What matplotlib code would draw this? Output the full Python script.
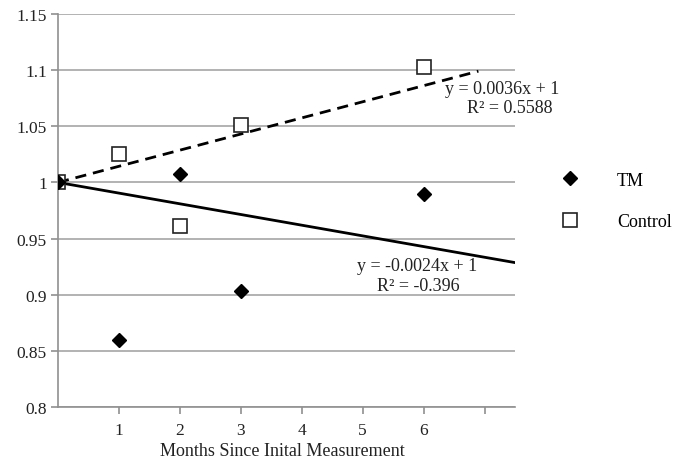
import numpy as np
import matplotlib
matplotlib.use("Agg")
import matplotlib.pyplot as plt

plt.rcParams['font.family'] = ['Liberation Serif', 'DejaVu Serif']

months = [0, 1, 2, 3, 6]
tm = [1.0, 0.86, 1.0075, 0.903, 0.99]
control = [1.0, 1.025, 0.961, 1.051, 1.103]
tm_eq = ["y = -0.0024x + 1", "R² = -0.396"]
ctrl_eq = ["y = 0.0036x + 1", "R² = 0.5588"]
xtick_pos = [1, 2, 3, 4, 5, 6, 7]
xtick_labels = ["1", "2", "3", "4", "5", "6", ""]
tm_trend_end = 7.5
ctrl_trend_end = 6.9

fig = plt.figure(figsize=(6.88, 4.64), dpi=100)
ax = fig.add_axes([0.0843, 0.1207, 0.6642, 0.847])

def fit_fixed(x, y, b=1.0):
    x = np.asarray(x, float); y = np.asarray(y, float) - b
    return (x * y).sum() / (x * x).sum()

m_tm = fit_fixed(months, tm)
m_c = fit_fixed(months, control)

ax.set_xlim(0, 7.5)
ax.set_ylim(0.8, 1.15)
yt = np.round(np.arange(0.8, 1.1501, 0.05), 2)
ax.set_yticks(yt)
ax.set_yticklabels([("%g" % v) for v in yt])
ax.set_xticks(xtick_pos)
ax.set_xticklabels(xtick_labels)
ax.yaxis.grid(True, color='#a6a6a6', linewidth=1.2)
ax.set_axisbelow(True)
for s in ['top', 'right']:
    ax.spines[s].set_visible(False)
for s in ['left', 'bottom']:
    ax.spines[s].set_color('#909090')
    ax.spines[s].set_linewidth(1.2)
ax.tick_params(axis='both', colors='#909090', labelcolor='#222222', labelsize=12.5, length=5, width=1.2)
ax.tick_params(axis='y', length=5, pad=3)
ax.tick_params(axis='x', pad=6)

xs = np.array([0, tm_trend_end])
ax.plot(xs, 1 + m_tm * xs, color='black', lw=2.0, zorder=3)
xc = np.array([0, ctrl_trend_end])
ax.plot(xc, 1 + m_c * xc, color='black', lw=2.0, ls=(0, (4, 2.5)), zorder=3)

ax.plot(months, control, ls='none', marker='s', ms=10, mfc='white', mec='#222222', mew=1.2, label='Control', zorder=4)
ax.plot(months, tm, ls='none', marker='D', ms=7, mfc='black', mec='black', label='TM', zorder=5)

tkw = dict(ha='center', va='center', fontsize=13, color='#222222', clip_on=False)
ax.text(7.29, 1.0832, ctrl_eq[0], **tkw)
ax.text(7.42, 1.0663, ctrl_eq[1], **tkw)
ax.text(5.89, 0.9256, tm_eq[0], **tkw)
ax.text(5.91, 0.9078, tm_eq[1], **tkw)

ax.set_xlabel("Months Since Inital Measurement", fontsize=13, color='#222222')
ax.xaxis.set_label_coords(0.49, -0.088)

h, l = ax.get_legend_handles_labels()
leg = fig.legend([h[1], h[0]], [l[1], l[0]], loc='center left', bbox_to_anchor=(0.789, 0.565),
                 frameon=False, fontsize=13, handlelength=1.2, labelspacing=1.35, handletextpad=2.0)

fig.savefig("out.png", dpi=100)
